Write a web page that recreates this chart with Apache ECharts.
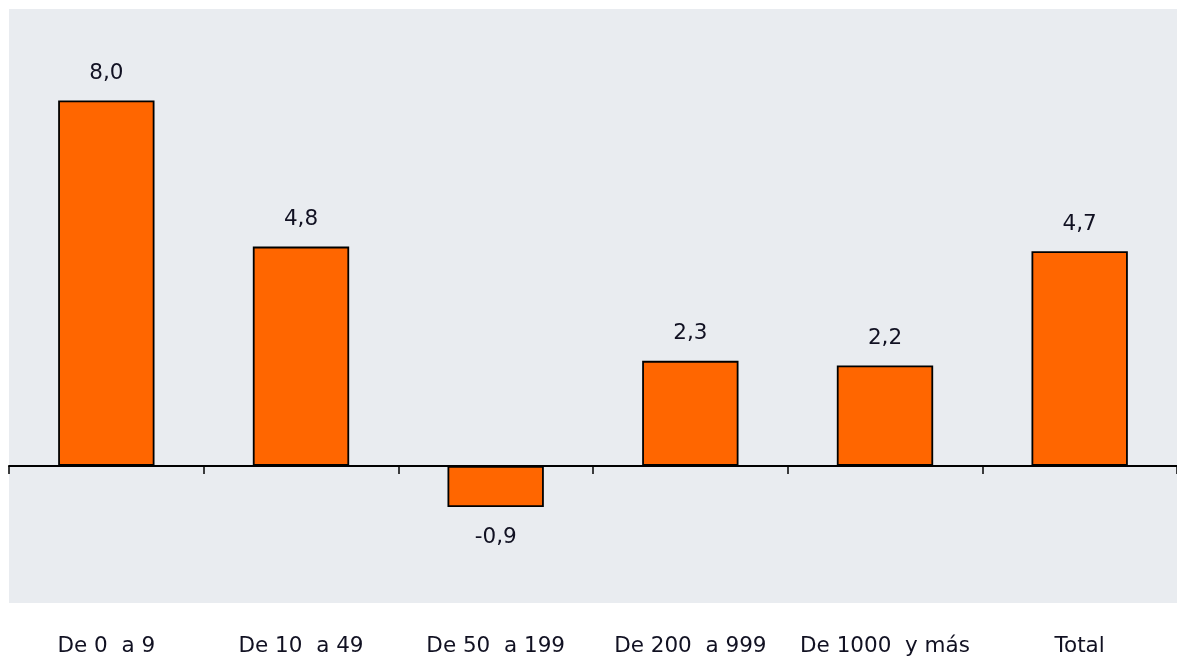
<!DOCTYPE html>
<html><head><meta charset="utf-8">
<script src="https://cdn.jsdelivr.net/npm/echarts@6/dist/echarts.min.js"></script>
<style>html,body{margin:0;padding:0;background:#fff}#c{width:1177px;height:658px}</style>
</head><body><div id="c"></div>
<script>
const categories = ['De 0  a 9', 'De 10  a 49', 'De 50  a 199', 'De 200  a 999', 'De 1000  y más', 'Total'];
const values = [8.0, 4.8, -0.9, 2.3, 2.2, 4.7];

const chart = echarts.init(document.getElementById('c'));
const font = 'DejaVu Sans';
chart.setOption({
  animation: false,
  grid: { left: 9, right: 0, top: 9, bottom: 55, show: true, backgroundColor: '#E9ECF0', borderWidth: 0 },
  xAxis: [
    { type: 'category', data: categories, axisLine: { onZero: true, lineStyle: { color: '#000', width: 2 } },
      axisTick: { show: true, length: 8, lineStyle: { color: '#000', width: 1.5 } },
      axisLabel: { show: false } },
    { type: 'category', data: categories, position: 'bottom', axisLine: { show: false, onZero: false },
      axisTick: { show: false },
      axisLabel: { interval: 0, margin: 32, fontFamily: font, fontSize: 21.5, color: '#111122' } }
  ],
  yAxis: { type: 'value', min: -3, max: 10, show: false, splitLine: { show: false } },
  series: [{
    type: 'bar', xAxisIndex: 0, data: values.map(v => ({ value: v, label: { position: v < 0 ? 'bottom' : 'top', distance: v < 0 ? 19 : 16 } })),
    barWidth: '49.5%',
    itemStyle: { color: '#FF6600', borderColor: '#000', borderWidth: 1.8 },
    label: { show: true, fontFamily: font, fontSize: 21.5, color: '#111122',
      formatter: p => p.value.toFixed(1).replace('.', ',') }
  }]
});
</script></body></html>
